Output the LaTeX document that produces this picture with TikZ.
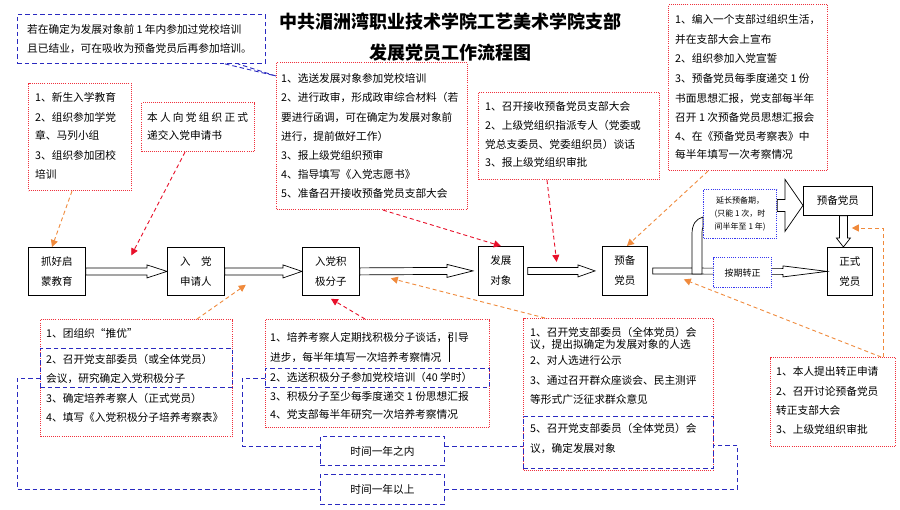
\documentclass[tikz,border=0pt]{standalone}
\usepackage{fontspec}
\setmainfont{Noto Sans CJK SC}
\usetikzlibrary{arrows.meta,calc}
\definecolor{rdot}{HTML}{F0303C}
\definecolor{rarr}{HTML}{E8102A}
\definecolor{oarr}{HTML}{F08A3C}
\definecolor{bdash}{HTML}{2A2AC0}
\definecolor{bdot}{HTML}{3838F0}
\tikzset{
 wh/.style 2 args={minimum width=#1pt, minimum height=#2pt},
 reddot/.style={draw=rdot, line width=1.1pt, dash pattern=on 1pt off 1.1pt, anchor=north west, inner sep=0pt},
 bluedash/.style={draw=bdash, line width=0.9pt, dash pattern=on 4.5pt off 3pt},
 bluebox/.style={bluedash, anchor=north west, inner sep=0pt},
 bluedot/.style={draw=bdot, line width=1.2pt, dash pattern=on 1.1pt off 1.1pt, fill=white, anchor=north west, inner sep=0pt},
 mainbox/.style={draw=black, line width=0.8pt, fill=white, anchor=north west, inner sep=0pt, align=center, font=\fontsize{10.5}{20}\selectfont},
 ln/.style={anchor=base west, inner sep=0pt, font=\fontsize{10.7}{12}\selectfont},
 redarr/.style={draw=rarr, line width=0.9pt, dash pattern=on 4pt off 3pt, -{Triangle[length=7pt,width=7pt]}},
 orarr/.style={draw=oarr, line width=0.9pt, dash pattern=on 4pt off 3pt, -{Triangle[length=7pt,width=7pt]}},
 hollow/.style={draw=black, line width=0.7pt, fill=white, line join=miter},
}
\newcommand\harr[5]{\draw[hollow] ($(#1)+(0,-#3)$) -- ($(#2)+(-#5,-#3)$) -- ($(#2)+(-#5,-#4)$) -- (#2) -- ($(#2)+(-#5,#4)$) -- ($(#2)+(-#5,#3)$) -- ($(#1)+(0,#3)$) -- cycle;}
\newcommand\varr[5]{\draw[hollow] ($(#1)+(-#3,0)$) -- ($(#2)+(-#3,-#5)$) -- ($(#2)+(-#4,-#5)$) -- (#2) -- ($(#2)+(#4,-#5)$) -- ($(#2)+(#3,-#5)$) -- ($(#1)+(#3,0)$) -- cycle;}
\newcommand\tln[4]{\node[ln] (#1) at (#2,#3) {#4};}
\begin{document}
\begin{tikzpicture}[x=1pt,y=-1pt]
\fill[white] (0,0) rectangle (900,509);
\useasboundingbox (0,0) rectangle (900,509);

% title
\node[font=\bfseries\fontsize{18}{20}\selectfont, inner sep=0pt] (tA) at (450,22) {中共湄洲湾职业技术学院工艺美术学院支部};
\node[font=\bfseries\fontsize{18}{20}\selectfont, inner sep=0pt] (tB) at (450,53) {发展党员工作流程图};

% main nodes
\node[mainbox, wh={57}{48}] (N1) at (28,247) {抓好启\\蒙教育};
\node[mainbox, wh={57}{48}] (N2) at (167,247) {入　党\\申请人};
\node[mainbox, wh={57}{48}] (N3) at (302,247) {入党积\\极分子};
\node[mainbox, wh={45}{49}] (N4) at (478,246) {发展\\对象};
\node[mainbox, wh={45}{49}] (N5) at (602,246) {预备\\党员};
\node[mainbox, wh={45}{48}] (N6) at (827,247) {正式\\党员};
\node[mainbox, wh={69}{29}] (N7) at (803,186) {预备党员};

% hollow arrows
\coordinate (t4) at ($(N4.west)+(-5,0)$);
\coordinate (s4) at ($(N4.east)+(4,0)$);
\coordinate (t5) at ($(N5.west)+(-7,0)$);
\coordinate (s5) at ($(N5.east)+(5,0)$);
\harr{N1.east}{N2.west}{3.5}{6.5}{20}
\harr{N2.east}{N3.west}{3.5}{6.5}{19}
\harr{N3.east}{t4}{3.5}{6.5}{26}
\harr{s4}{t5}{3.5}{6}{17}
\harr{s5}{N6.west}{3}{5.5}{44}
% bent arrow up into extension box
\draw[hollow] (692,274) -- (692,234) .. controls (692,224) and (696,219) .. (703,217) -- (703,227) .. controls (702.5,228) and (702,230) .. (702,234) -- (702,274) -- cycle;

% blue dotted boxes
\node[bluedot, wh={73}{49}, align=center, font=\fontsize{8}{12.8}\selectfont] (Yb) at (703,189) {延长预备期，\\(只能 1 次，时\\间半年至 1 年)};
\node[bluedot, wh={58}{30}, font=\fontsize{9}{10}\selectfont] (Ab) at (713,257) {按期转正};

\coordinate (t7) at ($(N7.west)+(0,4.5)$);
\coordinate (s7) at (Yb.east |- t7);
\harr{s7}{t7}{6}{26}{18}
\coordinate (t6) at ($(N6.north)+(-6.5,0)$);
\coordinate (s6) at (t6 |- N7.south);
\varr{s6}{t6}{4}{7}{9}

% top boxes
\node[bluebox, wh={248}{49}] (A) at (17,14) {};
\tln{A1}{27}{33}{若在确定为发展对象前 1 年内参加过党校培训}
\tln{A2}{27}{52}{且已结业，可在吸收为预备党员后再参加培训。}

\node[reddot, wh={191}{147}] (B) at (276,62) {};
\tln{B1}{281}{82}{1、选送发展对象参加党校培训}
\tln{B2}{281}{101}{2、进行政审，形成政审综合材料（若}
\tln{B3}{281}{121}{要进行函调，可在确定为发展对象前}
\tln{B4}{281}{140}{进行，提前做好工作）}
\tln{B5}{281}{159}{3、报上级党组织预审}
\tln{B6}{281}{178}{4、指导填写《入党志愿书》}
\tln{B7}{281}{197}{5、准备召开接收预备党员支部大会}

\node[reddot, wh={181}{87}] (C) at (478,92) {};
\tln{C1}{485}{110}{1、召开接收预备党员支部大会}
\tln{C2}{485}{129}{2、上级党组织指派专人（党委或}
\tln{C3}{485}{148}{党总支委员、党委组织员）谈话}
\tln{C4}{485}{166.5}{3、报上级党组织审批}

\node[reddot, wh={159}{166}] (D) at (668,4) {};
\tln{D1}{675}{23}{1、编入一个支部过组织生活，}
\tln{D2}{675}{43}{并在支部大会上宣布}
\tln{D3}{675}{62}{2、组织参加入党宣誓}
\tln{D4}{675}{82}{3、预备党员每季度递交 1 份}
\tln{D5}{675}{102}{书面思想汇报，党支部每半年}
\tln{D6}{675}{121}{召开 1 次预备党员思想汇报会}
\tln{D7}{675}{140}{4、在《预备党员考察表》中}
\tln{D8}{675}{158}{每半年填写一次考察情况}

\node[reddot, wh={103}{107}] (E) at (28,83) {};
\tln{E1}{35}{101}{1、新生入学教育}
\tln{E2}{35}{121}{2、组织参加学党}
\tln{E3}{35}{139}{章、马列小组}
\tln{E4}{35}{159}{3、组织参加团校}
\tln{E5}{35}{178}{培训}

\node[reddot, wh={113}{49}] (F) at (141,102) {};
\tln{F1}{147}{121}{\hbox to 101pt{本\hfill 人\hfill 向\hfill 党\hfill 组\hfill 织\hfill 正\hfill 式}}
\tln{F2}{147}{139}{递交入党申请书}

% bottom boxes
\node[reddot, wh={192}{117}] (G1) at (40,319) {};
\node[bluebox, wh={192}{39}] (G1b) at (40,348) {};
\tln{G11}{46}{337}{1、团组织“推优”}
\tln{G12}{46}{363}{2、召开党支部委员（或全体党员）}
\tln{G13}{46}{382}{会议，研究确定入党积极分子}
\tln{G14}{46}{402}{3、确定培养考察人（正式党员）}
\tln{G15}{46}{421}{4、填写《入党积极分子培养考察表》}

\node[reddot, wh={224}{108}] (G2) at (265,319) {};
\node[bluebox, wh={224}{19}] (G2b) at (265,368) {};
\tln{G21}{270}{341}{1、培养考察人定期找积极分子谈话，引导}
\tln{G22}{270}{361}{进步，每半年填写一次培养考察情况}
\tln{G23}{270}{381}{2、选送积极分子参加党校培训（40 学时）}
\tln{G24}{270}{400}{3、积极分子至少每季度递交 1 份思想汇报}
\tln{G25}{270}{418}{4、党支部每半年研究一次培养考察情况}
\draw[line width=1pt] (449,334) -- (449,362);

\node[reddot, wh={190}{152}] (G3) at (523,318) {};
\node[bluebox, wh={190}{52}] (G3b) at (523,416) {};
\tln{G31}{530}{336}{1、召开党支部委员（全体党员）会}
\tln{G32}{530}{348}{议，提出拟确定为发展对象的人选}
\tln{G33}{530}{364}{2、对人选进行公示}
\tln{G34}{530}{384}{3、通过召开群众座谈会、民主测评}
\tln{G35}{530}{403}{等形式广泛征求群众意见}
\tln{G36}{530}{432}{5、召开党支部委员（全体党员）会}
\tln{G37}{530}{452}{议，确定发展对象}

\node[reddot, wh={125}{89}] (H) at (770,357) {};
\tln{H1}{776}{375}{1、本人提出转正申请}
\tln{H2}{776}{395}{2、召开讨论预备党员}
\tln{H3}{776}{414}{转正支部大会}
\tln{H4}{776}{433}{3、上级党组织审批}

\node[bluebox, wh={124}{29}, font=\fontsize{10.7}{12}\selectfont] (T1) at (320,436) {时间一年之内};
\node[bluebox, wh={124}{30}, font=\fontsize{10.7}{12}\selectfont] (T2) at (320,474) {时间一年以上};

% blue dashed brackets
\draw[bluedash] ($(A.south west)+(208,0)$) -- ($(B.north west)+(0,14)$) -- ($(A.south west)+(221,0)$);
\draw[bluedash] ($(G1b.west)+(0,10)$) -- ++(-23,0) |- (T2.west);
\draw[bluedash] (T2.east) -| ($(G3b.east)+(24,3)$) -- ($(G3b.east)+(0,3)$);
\coordinate (q1) at ($(T1.west)+(0,-5)$);
\coordinate (q2) at ($(T1.east)+(0,-5)$);
\draw[bluedash] (G2b.west) -- ++(-23,0) |- (q1);
\draw[bluedash] (q2) -- (G3b.west |- q2);

% dashed arrows
\draw[redarr] ($(F.south west)+(44,0)$) -- ($(N1.east)!0.56!(N2.west)+(0,-16)$);
\draw[orarr] ($(E.south west)+(44,0)$) -- ($(N1.north west)+(24,0)$);
\draw[redarr] ($(B.south west)+(107,0)$) -- (N4.north);
\draw[redarr] ($(C.south west)+(69,0)$) -- ($(N4.east)!0.42!(N5.west)+(0,-9)$);
\draw[orarr] ($(D.south west)+(40,0)$) -- ($(N5.north)+(2,0)$);
\draw[orarr] ($(G1.north west)+(157,0)$) -- ($(N2.south east)+(21,-11)$);
\draw[redarr] ($(G2.north west)+(100,0)$) -- ($(N3.south)+(0,3)$);
\draw[orarr] ($(G3.north west)+(22,0)$) -- ($(N3.east)+(31,7)$);
\draw[orarr] ($(H.north east)+(-15,0)$) -- ($(N5.east)+(36,8.5)$);
\draw[orarr] ($(H.north east)+(-13,0)$) |- ($(N6.north east)+(-21,-19)$);
\end{tikzpicture}
\end{document}
